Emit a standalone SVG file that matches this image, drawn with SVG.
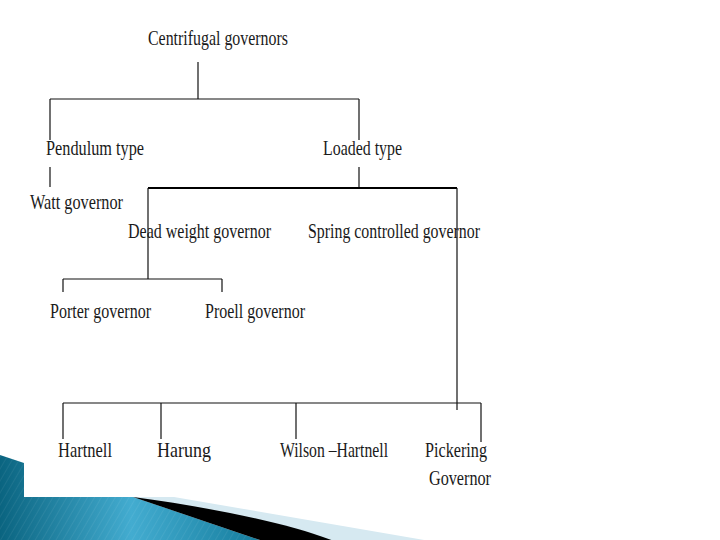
<svg xmlns="http://www.w3.org/2000/svg" width="720" height="540" viewBox="0 0 720 540">
  <defs>
    <linearGradient id="tealGrad" x1="0" y1="0" x2="263" y2="0" gradientUnits="userSpaceOnUse">
      <stop offset="0" stop-color="#0a6480"/>
      <stop offset="0.5" stop-color="#43acd0"/>
      <stop offset="1" stop-color="#147c9c"/>
    </linearGradient>
    <pattern id="stripes" width="6" height="6" patternUnits="userSpaceOnUse" patternTransform="rotate(30)">
      <line x1="0" y1="0" x2="0" y2="6" stroke="#ffffff" stroke-opacity="0.12" stroke-width="1"/>
    </pattern>
    <style>
      .lbl { font-family: "Liberation Serif", "Times New Roman", serif; font-size: 21px; fill: #1a1a1a; }
      .ln { stroke: #111; stroke-width: 1.2; fill: none; }
      .thick { stroke: #000; stroke-width: 2.2; fill: none; }
    </style>
  </defs>
  <rect x="0" y="0" width="720" height="540" fill="#ffffff"/>

  <!-- bottom-left decoration -->
  <g id="decoration">
    <path d="M110,486 L430,541 L110,541 Z" fill="#d6e9f1"/>
    <path d="M0,455 L24,463 L133,497 L263,541 L0,541 Z" fill="url(#tealGrad)"/>
    <path d="M0,455 L24,463 L133,497 L263,541 L0,541 Z" fill="url(#stripes)"/>
    <path d="M133,497 C200,506 282,521 334,541 L263,541 Z" fill="#000"/>
    <rect x="24" y="430" width="480" height="67" fill="#ffffff"/>
  </g>

  <g id="connectors">
    <path class="ln" d="M198,62 V99"/>
    <path class="ln" d="M50,99 H359"/>
    <path class="ln" d="M50,99 V140"/>
    <path class="ln" d="M359,99 V140"/>
    <path class="ln" d="M50,167 V187"/>
    <path class="ln" d="M359,167 V188"/>
    <path class="thick" d="M148,188 H457"/>
    <path class="ln" d="M148,188 V279"/>
    <path class="ln" d="M457,188 V410"/>
    <path class="ln" d="M63,279 H222"/>
    <path class="ln" d="M63,279 V292"/>
    <path class="ln" d="M222,279 V292"/>
    <path class="ln" d="M63,403 H481"/>
    <path class="ln" d="M63,403 V439"/>
    <path class="ln" d="M161,403 V439"/>
    <path class="ln" d="M296,403 V439"/>
    <path class="ln" d="M481,403 V442"/>
  </g>

  <g id="centrifugal"><text class="lbl" x="148" y="45" textLength="140" lengthAdjust="spacingAndGlyphs">Centrifugal governors</text></g>
  <g id="pendulum"><text class="lbl" x="46" y="155" textLength="98" lengthAdjust="spacingAndGlyphs">Pendulum type</text></g>
  <g id="loaded"><text class="lbl" x="323" y="155" textLength="79" lengthAdjust="spacingAndGlyphs">Loaded type</text></g>
  <g id="watt"><text class="lbl" x="30" y="209" textLength="93" lengthAdjust="spacingAndGlyphs">Watt governor</text></g>
  <g id="deadweight"><text class="lbl" x="128" y="238" textLength="143" lengthAdjust="spacingAndGlyphs">Dead weight governor</text></g>
  <g id="spring"><text class="lbl" x="308" y="238" textLength="172" lengthAdjust="spacingAndGlyphs">Spring controlled governor</text></g>
  <g id="porter"><text class="lbl" x="50" y="318" textLength="101" lengthAdjust="spacingAndGlyphs">Porter governor</text></g>
  <g id="proell"><text class="lbl" x="205" y="318" textLength="100" lengthAdjust="spacingAndGlyphs">Proell governor</text></g>
  <g id="hartnell"><text class="lbl" x="58" y="457" textLength="54" lengthAdjust="spacingAndGlyphs">Hartnell</text></g>
  <g id="harung"><text class="lbl" x="157" y="457" textLength="54" lengthAdjust="spacingAndGlyphs">Harung</text></g>
  <g id="wilson"><text class="lbl" x="280" y="457" textLength="108" lengthAdjust="spacingAndGlyphs">Wilson –Hartnell</text></g>
  <g id="pickering">
    <text class="lbl" x="425" y="457" textLength="62" lengthAdjust="spacingAndGlyphs">Pickering</text>
    <text class="lbl" x="429" y="485" textLength="62" lengthAdjust="spacingAndGlyphs">Governor</text>
  </g>
</svg>
